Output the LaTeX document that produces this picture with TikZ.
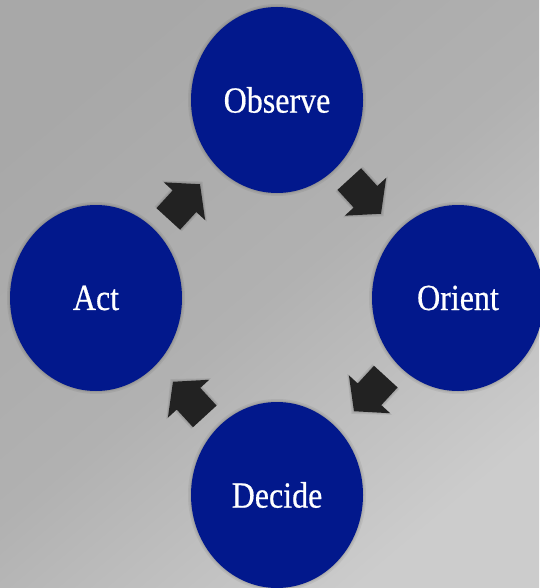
\documentclass[tikz,border=0pt]{standalone}
\usepackage{fontspec}
\setmainfont{Liberation Serif}
\newfontfamily\stagefont[FakeBold=0.6]{Liberation Serif}
\usetikzlibrary{calc,shapes.geometric}
\definecolor{bgA}{RGB}{168,168,168}
\definecolor{bgM}{RGB}{177,177,177}
\definecolor{bgB}{RGB}{204,204,204}
\definecolor{oodablue}{RGB}{2,24,140}
\definecolor{arrowdark}{RGB}{34,34,34}
\tikzset{
  stage/.style={ellipse, fill=oodablue, minimum width=172pt, minimum height=186pt,
    inner sep=0pt, text=white, font=\stagefont\fontsize{32}{36}\selectfont},
  halo/.style={ellipse, fill=black, opacity=0.06, minimum width=#1, minimum height=#1+14pt, inner sep=0pt},
  blockarrow/.style={fill=arrowdark, draw=none}
}
\newcommand{\stagetext}[1]{\scalebox{1}[1.15]{#1}}
\newcommand{\halos}[1]{%
  \node[halo=178pt] at (#1) {};
  \node[halo=175pt] at (#1) {};
  \node[halo=173pt] at (#1) {};
}
\newcommand{\bigarrow}[2]{%
  \coordinate (m0) at ($(#1)!0.5!(#2)$);
  \coordinate (m) at ($(m0)!3pt!(#1)$);
  \coordinate (tip) at ($(m)!23pt!(#2)$);
  \coordinate (tail) at ($(m)!24pt!(#1)$);
  \foreach \e in {1.2,2.4}{
  \fill[black, opacity=0.07]
    ($(tail)!16pt+\e pt!90:(#2)$) -- ($(m)!16pt+\e pt!90:(#2)$) -- ($(m)!28pt+\e pt!90:(#2)$) --
    ($(m)!23pt+1.5*\e pt!(#2)$) --
    ($(m)!28pt+\e pt!-90:(#2)$) -- ($(m)!16pt+\e pt!-90:(#2)$) -- ($(tail)!16pt+\e pt!-90:(#2)$) -- cycle;
  }
  \fill[blockarrow]
    ($(tail)!16pt!90:(#2)$) -- ($(m)!16pt!90:(#2)$) -- ($(m)!28pt!90:(#2)$) --
    (tip) --
    ($(m)!28pt!-90:(#2)$) -- ($(m)!16pt!-90:(#2)$) -- ($(tail)!16pt!-90:(#2)$) -- cycle;
}
\begin{document}
\begin{tikzpicture}[x=1pt,y=-1pt]
  \useasboundingbox (0,0) rectangle (539,588);
  \shade[top color=bgA, bottom color=bgB, middle color=bgM, shading angle=40] (0,0) rectangle (539,588);
  % soft shadows
  \halos{277,100}
  \halos{458,298}
  \halos{277,495}
  \halos{96,298}
  % stages
  \node[stage] (observe) at (277,100) {\stagetext{Observe}};
  \node[stage] (orient) at (458,298) {\stagetext{Orient}};
  \node[stage] (decide) at (277,495) {\stagetext{Decide}};
  \node[stage] (act) at (96,298) {\stagetext{Act}};
  % arrows
  \bigarrow{observe}{orient}
  \bigarrow{orient}{decide}
  \bigarrow{decide}{act}
  \bigarrow{act}{observe}
\end{tikzpicture}
\end{document}
